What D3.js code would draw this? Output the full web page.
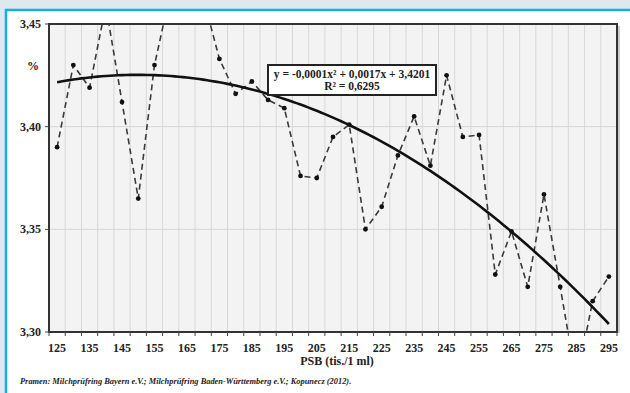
<!DOCTYPE html>
<html>
<head>
<meta charset="utf-8">
<script src="https://cdn.jsdelivr.net/npm/d3@7"></script>
<style>
  html, body { margin: 0; padding: 0; background: #dde8ef; }
  svg { display: block; }
</style>
</head>
<body>
<svg id="chart" width="630" height="393"></svg>
<script>
// PSB classes (thousand cells per ml), one category every 5 units
const categories = [125,130,135,140,145,150,155,160,165,170,175,180,185,190,195,200,205,210,215,
  220,225,230,235,240,245,250,255,260,265,270,275,280,285,290,295];
// Mean protein content (%) per class; values above 3,45 / below 3,30 fall outside the axis
const protein = [3.390,3.430,3.419,3.459,3.412,3.365,3.430,3.466,3.470,3.463,3.433,3.416,3.422,3.413,3.409,
  3.376,3.375,3.395,3.401,3.350,3.361,3.386,3.405,3.381,3.425,3.395,3.396,3.328,3.349,3.322,3.367,3.322,3.276,3.315,3.327];
const xTickLabels = ["125","135","145","155","165","175","185","195","205","215","225","235","245","255","265","275","285","295"];
const yTicks = [3.30, 3.35, 3.40, 3.45];
// Polynomial trend (x = category index starting at 1)
const trendCoef = { a: -0.000144, b: 0.00172, c: 3.4201 };
const trendLines = ["y = -0,0001x² + 0,0017x + 3,4201", "R² = 0,6295"];
const sourceNote = "Pramen: Milchprüfring Bayern e.V.; Milchprüfring Baden-Württemberg e.V.; Kopunecz (2012).";

const svg = d3.select("#chart");
const serif = "'Liberation Serif', 'Times New Roman', serif";

// outer frame
svg.append("rect").attr("x", 0).attr("y", 0).attr("width", 630).attr("height", 393).attr("fill", "#dde8ef");
svg.append("rect").attr("x", 6).attr("y", 10).attr("width", 630).attr("height", 400)
  .attr("fill", "#ffffff").attr("stroke", "#14ade6").attr("stroke-width", 2.5);

const plot = { left: 49, top: 24, right: 617, bottom: 332 };

const x = d3.scaleBand().domain(categories).range([plot.left, plot.right]).paddingInner(0).paddingOuter(0);
const y = d3.scaleLinear().domain([3.30, 3.45]).range([plot.bottom, plot.top]);
const cx = c => x(c) + x.bandwidth() / 2;

// plot background
svg.append("rect").attr("x", plot.left).attr("y", plot.top)
  .attr("width", plot.right - plot.left).attr("height", plot.bottom - plot.top)
  .attr("fill", "#f3f3f3");

// vertical gridlines at category boundaries
const bounds = categories.map(c => x(c)).concat([plot.right]);
svg.append("g").selectAll("line").data(bounds.slice(1, -1)).join("line")
  .attr("x1", d => d).attr("x2", d => d).attr("y1", plot.top).attr("y2", plot.bottom)
  .attr("stroke", "#d8d8d8").attr("stroke-width", 1);

// horizontal gridlines
svg.append("g").selectAll("line").data(yTicks.slice(1, -1)).join("line")
  .attr("x1", plot.left).attr("x2", plot.right).attr("y1", d => y(d)).attr("y2", d => y(d))
  .attr("stroke", "#d6d6d6").attr("stroke-width", 1);

// clip to plot area
svg.append("defs").append("clipPath").attr("id", "plotClip")
  .append("rect").attr("x", plot.left).attr("y", plot.top)
  .attr("width", plot.right - plot.left).attr("height", plot.bottom - plot.top);

const g = svg.append("g").attr("clip-path", "url(#plotClip)");

// dashed data series
const line = d3.line().x((d, i) => cx(categories[i])).y(d => y(d));
g.append("path").datum(protein).attr("d", line)
  .attr("fill", "none").attr("stroke", "#3a3a3a").attr("stroke-width", 1.6)
  .attr("stroke-dasharray", "6,4");

// markers
g.selectAll("circle").data(protein).join("circle")
  .attr("cx", (d, i) => cx(categories[i])).attr("cy", d => y(d)).attr("r", 2.4)
  .attr("fill", "#111");

// trend curve
const trendPts = d3.range(1, categories.length + 0.001, 0.25).map(t => {
  const v = trendCoef.a * t * t + trendCoef.b * t + trendCoef.c;
  const px = cx(categories[0]) + (t - 1) * x.step();
  return [px, y(v)];
});
g.append("path").datum(trendPts).attr("d", d3.line())
  .attr("fill", "none").attr("stroke", "#111").attr("stroke-width", 2.6);

// plot border with a faint shadow on the right
svg.append("line").attr("x1", plot.right + 2).attr("x2", plot.right + 2)
  .attr("y1", plot.top + 2).attr("y2", plot.bottom + 1)
  .attr("stroke", "#bbb").attr("stroke-width", 1.5);
svg.append("rect").attr("x", plot.left).attr("y", plot.top)
  .attr("width", plot.right - plot.left).attr("height", plot.bottom - plot.top)
  .attr("fill", "none").attr("stroke", "#333").attr("stroke-width", 2);

// x axis ticks at boundaries
svg.append("g").selectAll("line").data(bounds).join("line")
  .attr("x1", d => d).attr("x2", d => d).attr("y1", plot.bottom).attr("y2", plot.bottom + 4)
  .attr("stroke", "#444").attr("stroke-width", 1);

// x tick labels (every other category)
svg.append("g").selectAll("text").data(xTickLabels).join("text")
  .attr("x", d => cx(+d)).attr("y", 352)
  .attr("text-anchor", "middle").attr("font-family", serif).attr("font-weight", "bold")
  .attr("font-size", 12).attr("fill", "#222").text(d => d);

// y axis ticks and labels
svg.append("g").selectAll("line").data(yTicks).join("line")
  .attr("x1", plot.left - 4).attr("x2", plot.left).attr("y1", d => y(d)).attr("y2", d => y(d))
  .attr("stroke", "#444").attr("stroke-width", 1);
svg.append("g").selectAll("text").data(yTicks).join("text")
  .attr("x", 41).attr("y", d => y(d) + 4)
  .attr("text-anchor", "end").attr("font-family", serif).attr("font-weight", "bold")
  .attr("font-size", 12).attr("fill", "#222").text(d => d3.format(".2f")(d).replace(".", ","));

// unit label
svg.append("text").attr("x", 33).attr("y", 70).attr("text-anchor", "middle")
  .attr("font-family", serif).attr("font-weight", "bold").attr("font-size", 12).attr("fill", "#222")
  .text("%");

// axis title
svg.append("text").attr("x", 337).attr("y", 365).attr("text-anchor", "middle")
  .attr("font-family", serif).attr("font-weight", "bold").attr("font-size", 12).attr("fill", "#222")
  .text("PSB (tis./1 ml)");

// trend equation box
svg.append("rect").attr("x", 268).attr("y", 65).attr("width", 168).attr("height", 30)
  .attr("fill", "#fff").attr("stroke", "#222").attr("stroke-width", 2);
svg.append("g").selectAll("text").data(trendLines).join("text")
  .attr("x", 352).attr("y", (d, i) => 78 + i * 12).attr("text-anchor", "middle")
  .attr("font-family", serif).attr("font-weight", "bold").attr("font-size", 11.5).attr("fill", "#222")
  .text(d => d);

// source note
svg.append("text").attr("x", 20).attr("y", 384)
  .attr("font-family", serif).attr("font-weight", "bold").attr("font-style", "italic")
  .attr("font-size", 8.4).attr("fill", "#222").text(sourceNote);
</script>
</body>
</html>
